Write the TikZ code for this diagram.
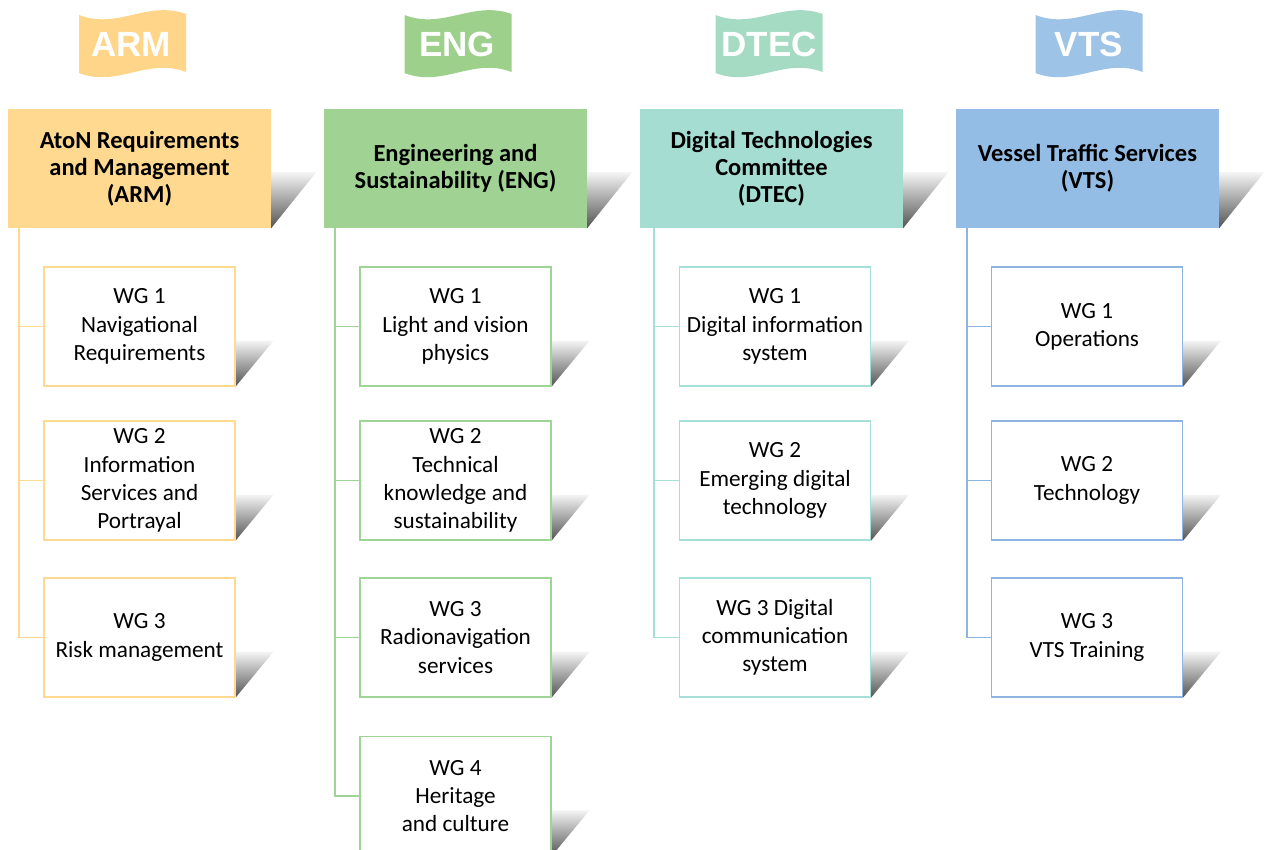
\documentclass[tikz,border=0pt]{standalone}
\usepackage{fontspec}
\setmainfont{Carlito}
\newfontfamily\bannerfont{Liberation Sans}
\usetikzlibrary{backgrounds,calc}
\definecolor{armB}{HTML}{FFD58A}
\definecolor{armH}{HTML}{FFD98F}
\definecolor{armL}{HTML}{FFD98F}
\definecolor{engB}{HTML}{9DD08B}
\definecolor{engH}{HTML}{A0D393}
\definecolor{engL}{HTML}{9ED597}
\definecolor{dtecB}{HTML}{A6DBC3}
\definecolor{dtecH}{HTML}{A5DDD3}
\definecolor{dtecL}{HTML}{A6DED8}
\definecolor{vtsB}{HTML}{9DC3E6}
\definecolor{vtsH}{HTML}{94BDE5}
\definecolor{vtsL}{HTML}{8EB5E2}
\tikzset{
  hdr/.style={minimum width=263, minimum height=119, inner sep=0, align=center,
    font=\fontsize{24.5}{27}\selectfont\bfseries},
  wgbox/.style={draw, line width=1.2, fill=white, minimum width=191, minimum height=119,
    inner sep=0, align=center, font=\fontsize{23.2}{28.3}\selectfont},
  trunk/.style={line width=1.5},
  bannertext/.style={text=white, inner sep=0, font=\bannerfont\bfseries\fontsize{35}{35}\selectfont},
}
\newcommand\cornershadow[3]{%
  \shade[top color=gray!8, bottom color=gray!65!black]
    ($(#1.south east)+(0,-#2)$) -- ++(#3,0) -- (#1.south east) -- cycle;}
\newcommand\bannershape[2]{%
  \fill[#2] (#1-53.5,15) .. controls (#1-15,30) and (#1+15,0) .. (#1+53.5,14)
    -- (#1+53.5,72) .. controls (#1+15,57) and (#1-15,88) .. (#1-53.5,73) -- cycle;}
\begin{document}
\begin{tikzpicture}[x=1pt,y=-1pt]
\useasboundingbox (0,0) rectangle (1266,850);
\clip (0,0) rectangle (1266,850);

% banners
\bannershape{132.5}{armB}
\bannershape{458}{engB}
\bannershape{769}{dtecB}
\bannershape{1089}{vtsB}
\node[bannertext] (armban) at (131,44) {ARM};
\node[bannertext] (engban) at (457,44) {ENG};
\node[bannertext] (dtecban) at (769,44) {DTEC};
\node[bannertext] (vtsban) at (1089,44) {VTS};

% headers
\node[hdr, fill=armH] (armh) at (139.5,168.5) {AtoN Requirements\\and Management\\(ARM)};
\node[hdr, fill=engH] (engh) at (455.5,168.5) {Engineering and\\Sustainability (ENG)};
\node[hdr, fill=dtecH] (dtech) at (771.5,168.5) {Digital Technologies\\Committee\\(DTEC)};
\node[hdr, fill=vtsH] (vtsh) at (1087.5,168.5) {Vessel Traffic Services\\(VTS)};

% ARM working groups
\node[wgbox, draw=armL] (arm1) at (139.5,326.5) {WG 1\\Navigational\\Requirements};
\node[wgbox, draw=armL] (arm2) at (139.5,480.5) {WG 2\\Information\\Services and\\Portrayal};
\node[wgbox, draw=armL] (arm3) at (139.5,637.5) {WG 3\\Risk management};

% ENG working groups
\node[wgbox, draw=engL] (eng1) at (455.5,326.5) {WG 1\\Light and vision\\physics};
\node[wgbox, draw=engL] (eng2) at (455.5,480.5) {WG 2\\Technical\\knowledge and\\sustainability};
\node[wgbox, draw=engL] (eng3) at (455.5,637.5) {WG 3\\Radionavigation\\services};
\node[wgbox, draw=engL] (eng4) at (455.5,796) {WG 4\\Heritage\\and culture};

% DTEC working groups
\node[wgbox, draw=dtecL] (dtec1) at (775,326.5) {WG 1\\Digital information\\system};
\node[wgbox, draw=dtecL] (dtec2) at (775,480.5) {WG 2\\Emerging digital\\technology};
\node[wgbox, draw=dtecL] (dtec3) at (775,637.5) {WG 3 Digital\\communication\\system};

% VTS working groups
\node[wgbox, draw=vtsL] (vts1) at (1087,326.5) {WG 1\\Operations};
\node[wgbox, draw=vtsL] (vts2) at (1087,480.5) {WG 2\\Technology};
\node[wgbox, draw=vtsL] (vts3) at (1087,637.5) {WG 3\\VTS Training};

% trunks
\coordinate (armt) at (19,228);
\coordinate (engt) at (335,228);
\coordinate (dtect) at (654,228);
\coordinate (vtst) at (967,228);
\draw[trunk, armL] (armt) |- (arm3.west);
\draw[trunk, armL] (arm1.west) -- (arm1.west -| armt);
\draw[trunk, armL] (arm2.west) -- (arm2.west -| armt);
\draw[trunk, engL] (engt) |- (eng4.west);
\draw[trunk, engL] (eng1.west) -- (eng1.west -| engt);
\draw[trunk, engL] (eng2.west) -- (eng2.west -| engt);
\draw[trunk, engL] (eng3.west) -- (eng3.west -| engt);
\draw[trunk, dtecL] (dtect) |- (dtec3.west);
\draw[trunk, dtecL] (dtec1.west) -- (dtec1.west -| dtect);
\draw[trunk, dtecL] (dtec2.west) -- (dtec2.west -| dtect);
\draw[trunk, vtsL] (vtst) |- (vts3.west);
\draw[trunk, vtsL] (vts1.west) -- (vts1.west -| vtst);
\draw[trunk, vtsL] (vts2.west) -- (vts2.west -| vtst);

\begin{pgfonlayer}{background}
\fill[white] (0,0) rectangle (1266,850);
\cornershadow{armh}{56}{45}
\cornershadow{engh}{56}{45}
\cornershadow{dtech}{56}{45}
\cornershadow{vtsh}{56}{45}
\foreach \n in {arm1,arm2,arm3,eng1,eng2,eng3,eng4,dtec1,dtec2,dtec3,vts1,vts2,vts3}{
  \cornershadow{\n}{46}{38}
}
\end{pgfonlayer}
\end{tikzpicture}
\end{document}
